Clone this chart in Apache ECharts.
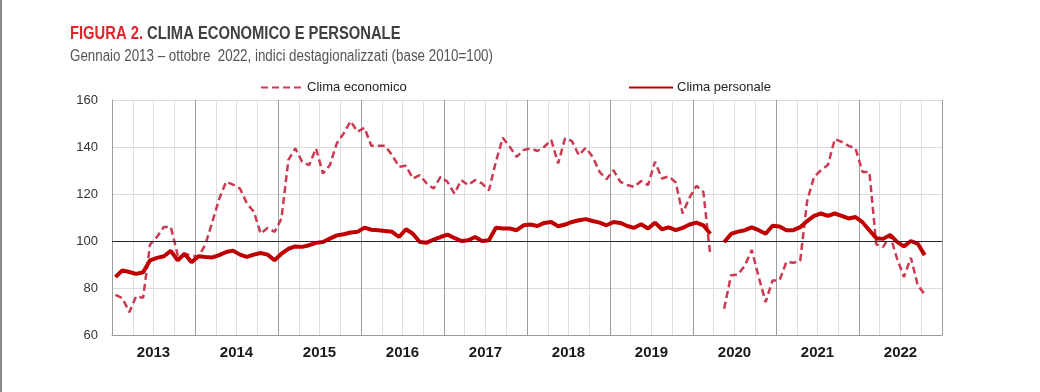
<!DOCTYPE html>
<html><head><meta charset="utf-8">
<script src="https://cdn.jsdelivr.net/npm/echarts@6/dist/echarts.min.js"></script>
<style>html,body{margin:0;padding:0;background:#fff}#c{width:1040px;height:392px}</style>
</head><body><div id="c"></div>
<script>
const years = ['2013','2014','2015','2016','2017','2018','2019','2020','2021','2022'];
const monthNames = ['01','02','03','04','05','06','07','08','09','10','11','12'];
const yTicks = {min: 60, max: 160, interval: 20, ref: 100};
const titleRed = 'FIGURA 2.';
const titleText = 'CLIMA ECONOMICO E PERSONALE';
const subtitleText = 'Gennaio 2013 – ottobre  2022, indici destagionalizzati (base 2010=100)';

// Clima economico (Jan 2013 - Oct 2022), April 2020 not collected
const economico = [
  77.1, 75.7, 69.7, 76.5, 75.8, 98.5, 101.7, 106.0, 106.0, 94.0, 94.5, 93.9,
  93.2, 98.5, 108.0, 118.0, 125.2, 124.0, 122.3, 116.0, 112.5, 103.1, 105.6, 103.9,
  109.5, 134.5, 139.4, 133.7, 132.3, 139.4, 128.7, 132.3, 141.5, 145.8, 151.0, 146.5,
  148.2, 140.5, 140.5, 140.5, 136.5, 131.6, 132.0, 126.6, 128.0, 124.5, 122.3, 127.3,
  125.2, 120.2, 125.9, 123.8, 125.9, 124.5, 121.6, 133.7, 143.9, 140.1, 135.8, 138.7,
  139.4, 138.3, 140.1, 143.0, 133.0, 143.7, 142.5, 136.5, 139.7, 135.8, 129.4, 126.3,
  130.1, 125.2, 123.8, 123.0, 125.5, 123.8, 133.7, 126.6, 127.5, 124.9, 111.7, 118.5,
  123.5, 120.9, 93.9, null, 71.2, 85.4, 85.7, 89.6, 96.2, 84.7, 74.0, 83.2,
  83.2, 91.1, 90.7, 91.6, 117.0, 127.3, 130.1, 132.3, 143.4, 142.2, 140.5, 139.4,
  129.4, 129.4, 98.6, 97.5, 102.4, 92.5, 84.7, 92.9, 81.1, 77.3
];
// Clima personale
const personale = [
  84.7, 87.5, 86.8, 86.0, 86.7, 91.8, 92.8, 93.5, 95.8, 91.8, 94.6, 91.0,
  93.5, 93.2, 93.0, 94.0, 95.3, 95.9, 94.2, 93.2, 94.2, 94.9, 94.2, 91.8,
  94.6, 96.7, 97.7, 97.5, 98.2, 99.2, 99.6, 101.0, 102.4, 102.9, 103.6, 103.9,
  105.7, 104.8, 104.6, 104.3, 103.9, 101.7, 105.0, 103.1, 99.6, 99.3, 100.6, 101.7,
  102.7, 101.3, 100.0, 100.3, 101.7, 100.0, 100.3, 105.6, 105.3, 105.3, 104.6, 106.7,
  107.0, 106.4, 107.7, 108.1, 106.3, 107.0, 108.1, 108.8, 109.3, 108.5, 107.8, 106.7,
  108.1, 107.7, 106.4, 105.6, 107.1, 105.3, 107.8, 105.0, 105.8, 104.6, 105.6, 107.0,
  107.8, 106.7, 103.1, null, 99.5, 103.0, 104.0, 104.6, 105.8, 104.6, 103.1, 106.5,
  106.2, 104.6, 104.6, 105.9, 108.5, 110.7, 111.7, 110.7, 111.7, 110.7, 109.6, 110.2,
  108.0, 104.6, 101.2, 100.9, 102.6, 99.6, 97.7, 100.0, 98.8, 94.0
];

const months = [];
years.forEach(y => monthNames.forEach(m => months.push(y + '-' + m)));

const FONT = '"Liberation Sans", Arial, sans-serif';
const NARROW = 0.82;
const chart = echarts.init(document.getElementById('c'), null, {renderer: 'canvas'});
chart.setOption({
  animation: false,
  backgroundColor: '#fff',
  legend: [
    {data: ['Clima economico'], left: 260, top: 81, padding: 0, itemWidth: 42, itemHeight: 14, itemGap: 5,
     itemStyle: {opacity: 0},
     textStyle: {fontFamily: FONT, fontSize: 13, color: '#222', padding: [0, 0, 0, -1]}},
    {data: ['Clima personale'], left: 628, top: 81, padding: 0, itemWidth: 44, itemHeight: 14, itemGap: 5,
     itemStyle: {opacity: 0},
     textStyle: {fontFamily: FONT, fontSize: 13, color: '#222', padding: [0, 0, 0, -1]}}
  ],
  grid: {left: 112, right: 98, top: 100, bottom: 57, containLabel: false},
  xAxis: [
    {
      type: 'category', data: years, position: 'bottom', boundaryGap: true, z: 3,
      axisLine: {show: true, lineStyle: {color: '#9a9a9a', width: 1}},
      axisTick: {show: false},
      axisLabel: {fontFamily: FONT, fontWeight: 'bold', fontSize: 15, color: '#1a1a1a', margin: 10},
      splitLine: {show: true, lineStyle: {color: '#9e9e9e', width: 1}}
    },
    {
      type: 'category', data: months, position: 'bottom', boundaryGap: true, z: 1,
      axisLine: {show: false}, axisTick: {show: false}, axisLabel: {show: false},
      splitLine: {show: true, interval: (i) => i % 3 === 0, lineStyle: {color: '#dedede', width: 1}}
    }
  ],
  yAxis: {
    type: 'value', min: yTicks.min, max: yTicks.max, interval: yTicks.interval,
    axisLine: {show: true, lineStyle: {color: '#9a9a9a'}},
    axisTick: {show: false},
    axisLabel: {fontFamily: FONT, fontSize: 13, color: '#333', margin: 14},
    splitLine: {show: true, lineStyle: {color: '#dcdcdc', width: 1}}
  },
  graphic: [
    {type: 'line', shape: {x1: 1, y1: 0, x2: 1, y2: 392}, style: {stroke: '#8a8a8a', lineWidth: 2}, silent: true},
    {
      type: 'text', x: 70, y: 25, scaleX: NARROW, scaleY: 1, originX: 0, originY: 0, silent: true,
      style: {
        text: '{r|' + titleRed + '} {g|' + titleText + '}',
        font: 'bold 18px ' + FONT, fill: '#404040', verticalAlign: 'top', align: 'left',
        rich: {
          r: {fill: '#e0262b', font: 'bold 18px ' + FONT},
          g: {fill: '#404040', font: 'bold 18px ' + FONT}
        }
      }
    },
    {
      type: 'text', x: 70, y: 49, scaleX: 0.835, scaleY: 1, originX: 0, originY: 0, silent: true,
      style: {text: subtitleText, font: '16px ' + FONT, fill: '#555', verticalAlign: 'top', align: 'left'}
    }
  ],
  series: [
    {
      name: 'Clima economico', type: 'line', xAxisIndex: 1, data: economico,
      symbol: 'none', connectNulls: false, z: 3,
      lineStyle: {color: '#cb3a50', width: 2.5, type: [7, 4]},
      itemStyle: {color: '#cb3a50'},
      markLine: {
        silent: true, symbol: ['none', 'none'], label: {show: false},
        lineStyle: {color: '#262626', width: 1, type: 'solid'},
        data: [{yAxis: yTicks.ref}]
      }
    },
    {
      name: 'Clima personale', type: 'line', xAxisIndex: 1, data: personale,
      symbol: 'none', connectNulls: false, z: 4,
      lineStyle: {color: '#c00000', width: 4},
      itemStyle: {color: '#c00000'}
    }
  ]
});
</script>
</body></html>
